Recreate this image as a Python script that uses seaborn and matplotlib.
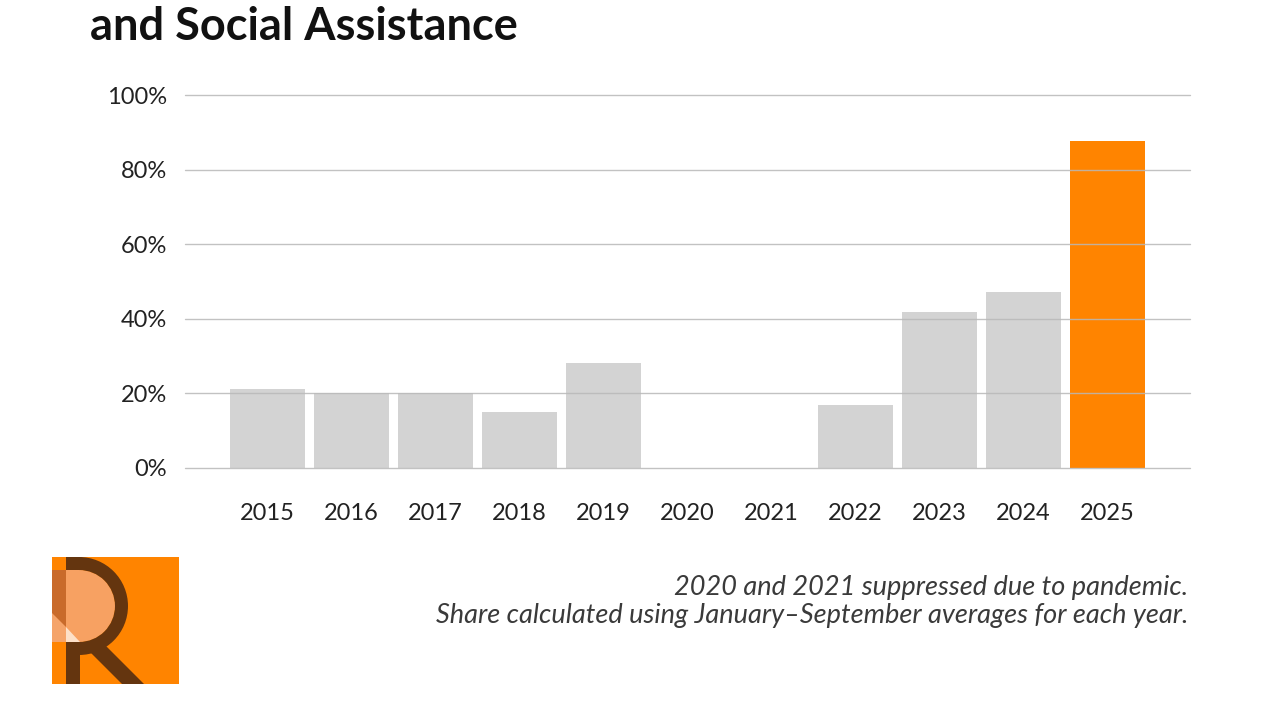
import matplotlib.pyplot as plt
from matplotlib.patches import Rectangle, Wedge, Polygon
import seaborn as sns
import pandas as pd
import numpy as np

years = ["2015", "2016", "2017", "2018", "2019", "2020", "2021", "2022", "2023", "2024", "2025"]
share = [21.2, 20.1, 20.1, 15.0, 28.2, np.nan, np.nan, 16.9, 41.8, 47.2, 87.7]
bar_colors = ["#d3d3d3"] * 10 + ["#ff8400"]
y_ticks = [0, 20, 40, 60, 80, 100]
y_labels = ["0%", "20%", "40%", "60%", "80%", "100%"]
title = "and Social Assistance"
notes = ["2020 and 2021 suppressed due to pandemic.",
         "Share calculated using January\u2013September averages for each year."]

df = pd.DataFrame({"year": years, "share": share})

sns.set_theme(style="white")
plt.rcParams['font.family'] = ['Lato', 'DejaVu Sans']

fig = plt.figure(figsize=(12.8, 7.2), dpi=100)
ax = fig.add_axes([185 / 1280, 252 / 720, 1005 / 1280, 373 / 720])

sns.barplot(data=df, x="year", y="share", hue="year", order=years, hue_order=years,
            palette=bar_colors, legend=False, width=0.9, saturation=1, ax=ax,
            edgecolor="none", linewidth=0)

ax.set_ylim(0, 100)
ax.set_xlim(-0.98, 10.98)
ax.set_yticks(y_ticks)
ax.set_yticklabels(y_labels)
ax.set_xlabel("")
ax.set_ylabel("")
ax.grid(axis="y", color="#b8b8b8", linewidth=1.0, alpha=0.85)
ax.grid(axis="x", visible=False)
for gl in ax.get_ygridlines():
    gl.set_clip_on(False)
ax.set_axisbelow(False)
for s in ax.spines.values():
    s.set_visible(False)
ax.tick_params(axis="y", length=0, pad=13, labelsize=17, labelcolor="#222222")
ax.tick_params(axis="x", length=0, pad=25, labelsize=17, labelcolor="#222222")

fig.text(90 / 1280, 1 - 40 / 720, title, fontsize=32.5, fontweight="bold",
         color="#111111", va="baseline", ha="left")

fig.text(1188 / 1280, 1 - 588 / 720, notes[0], fontsize=19.5, style="italic",
         color="#3a3a3a", ha="right", va="center")
fig.text(1188 / 1280, 1 - 615 / 720, notes[1], fontsize=19.5, style="italic",
         color="#3a3a3a", ha="right", va="center")

# logo
lg = fig.add_axes([52 / 1280, 36 / 720, 127 / 1280, 127 / 720])
lg.set_xlim(0, 127)
lg.set_ylim(127, 0)
lg.axis("off")
dark = "#64350f"
lg.add_patch(Rectangle((0, 0), 127, 127, color="#ff8400", lw=0))
lg.add_patch(Rectangle((14, 0), 14, 127, color=dark, lw=0))
lg.add_patch(Rectangle((0, 13), 14, 72, color="#c96b2b", lw=0))
lg.add_patch(Polygon([(0, 56), (14, 70), (14, 85), (0, 85)], color="#f5a46a", lw=0))
lg.add_patch(Rectangle((14, 13), 13, 72, color="#f7a162", lw=0))
lg.add_patch(Wedge((27, 49), 36, -90, 90, color="#f7a162", lw=0))
lg.add_patch(Polygon([(14, 70), (28, 85), (14, 85)], color="#fde0c8", lw=0))
lg.add_patch(Wedge((27, 49), 49, -90, 90, width=13, color=dark, lw=0))
lg.add_patch(Rectangle((14, 0), 14, 13, color=dark, lw=0))
lg.add_patch(Polygon([(28, 85), (50, 85), (92, 127), (70, 127)], color=dark, lw=0))

plt.savefig("out.png", dpi=100)
plt.close()
